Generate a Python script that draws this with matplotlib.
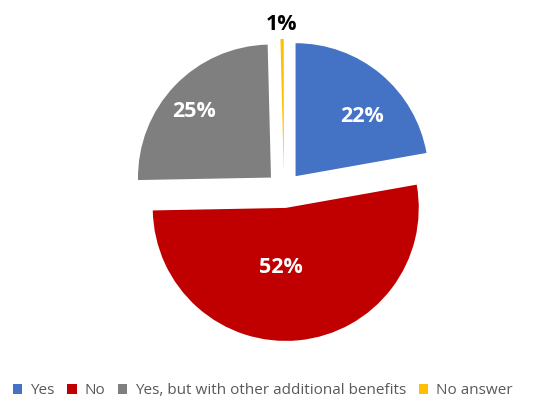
import numpy as np
import matplotlib.pyplot as plt
from matplotlib.patches import Patch

plt.rcParams['font.family'] = ['Open Sans', 'DejaVu Sans']

labels = ['Yes', 'No', 'Yes, but with other additional benefits', 'No answer']
values = [22.2, 52.5, 24.9, 0.4]
colors = ['#4472C4', '#C00000', '#7F7F7F', '#FFC000']
pct_text = ['22%', '52%', '25%', '1%']

W, H = 550, 417
fig = plt.figure(figsize=(W / 100, H / 100), dpi=100)
ax = fig.add_axes([0, 0, 1, 1])

cx, cy, r = 284, H - 190, 133
expl = 18

wedges, _ = ax.pie(values, colors=colors, startangle=90, counterclock=False,
                   radius=r, center=(cx, cy), explode=[expl] * len(values),
                   wedgeprops=dict(linewidth=0))
ax.set_xlim(0, W)
ax.set_ylim(0, H)
ax.set_aspect('equal')
ax.axis('off')

# label placement: (distance from wedge apex as frac of r, angle offset in deg)
lab_pos = [(0.67, -8), (0.45, -10), (0.76, 3), (1.11, 0)]
for w, txt, (d, da) in zip(wedges, pct_text, lab_pos):
    mid = np.deg2rad((w.theta1 + w.theta2) / 2)
    ax_, ay_ = w.center
    ang = mid + np.deg2rad(da)
    x = ax_ + d * r * np.cos(ang)
    y = ay_ + d * r * np.sin(ang)
    col = 'black' if txt == '1%' else 'white'
    ax.text(x, y, txt, ha='center', va='center', fontsize=15.5,
            fontweight='bold', color=col)

handles = [Patch(facecolor=c, edgecolor='none') for c in colors]
leg = fig.legend(handles, labels, loc='center', bbox_to_anchor=(0.478, 1 - 391 / H),
                 ncol=4, frameon=False, fontsize=11, handlelength=0.6,
                 handleheight=0.6, handletextpad=0.5, columnspacing=0.85)
for t in leg.get_texts():
    t.set_color('#595959')

fig.savefig('out.png', dpi=100)
